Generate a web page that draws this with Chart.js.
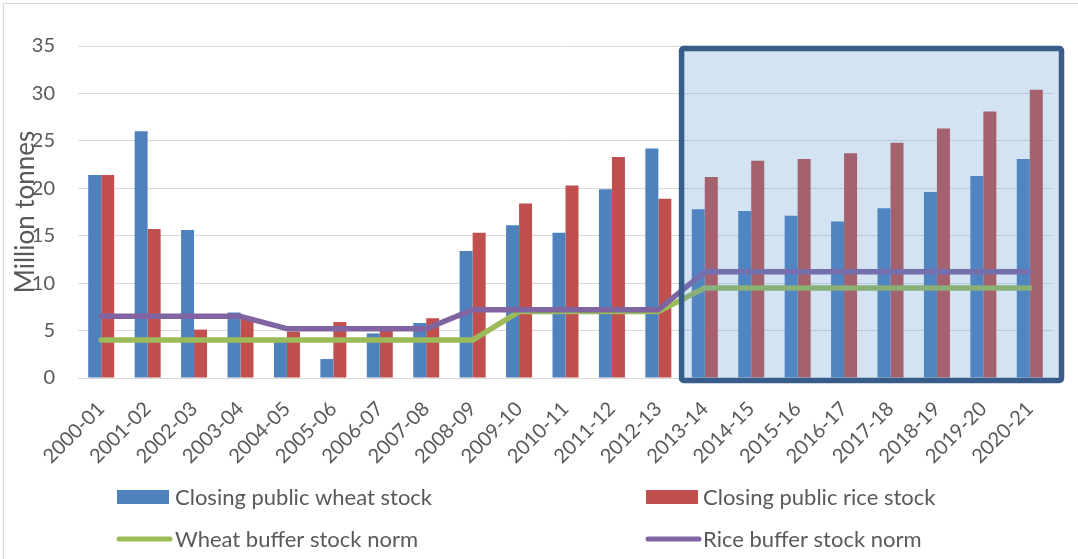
<!DOCTYPE html>
<html><head><meta charset="utf-8">
<script src="https://cdn.jsdelivr.net/npm/chart.js@4.4.1/dist/chart.umd.min.js"></script>
<style>html,body{margin:0;padding:0;background:#fff;}#wrap{width:1078px;height:559px;position:relative;}</style>
</head><body><div id="wrap"><canvas id="c" width="1078" height="559"></canvas></div>
<script>
const categories = ['2000-01','2001-02','2002-03','2003-04','2004-05','2005-06','2006-07','2007-08','2008-09','2009-10','2010-11','2011-12','2012-13','2013-14','2014-15','2015-16','2016-17','2017-18','2018-19','2019-20','2020-21'];
const wheatStock = [21.4, 26.0, 15.6, 6.9, 4.1, 2.0, 4.7, 5.8, 13.4, 16.1, 15.3, 19.9, 24.2, 17.8, 17.6, 17.1, 16.5, 17.9, 19.6, 21.3, 23.1];
const riceStock  = [21.4, 15.7, 5.1, 6.3, 4.9, 5.9, 5.1, 6.3, 15.3, 18.4, 20.3, 23.3, 18.9, 21.2, 22.9, 23.1, 23.7, 24.8, 26.3, 28.1, 30.4];
const wheatNorm  = [4, 4, 4, 4, 4, 4, 4, 4, 4, 7, 7, 7, 7, 9.5, 9.5, 9.5, 9.5, 9.5, 9.5, 9.5, 9.5];
const riceNorm   = [6.5, 6.5, 6.5, 6.5, 5.2, 5.2, 5.2, 5.2, 7.2, 7.2, 7.2, 7.2, 7.2, 11.2, 11.2, 11.2, 11.2, 11.2, 11.2, 11.2, 11.2];
const seriesLabels = ['Closing public wheat stock', 'Closing public rice stock', 'Wheat buffer stock norm', 'Rice buffer stock norm'];
const highlightFrom = '2013-14';
const yTicksMax = 35, yStep = 5;

const FONT = 'Lato, "Open Sans", sans-serif';
const TXT = '#595959';

const frame = {
  id: 'frame',
  beforeDraw(chart) {
    const ctx = chart.ctx;
    ctx.save();
    ctx.fillStyle = '#fff';
    ctx.fillRect(0, 0, chart.width, chart.height);
    ctx.strokeStyle = '#d9d9d9';
    ctx.lineWidth = 1;
    ctx.strokeRect(3.5, 3.5, chart.width + 10, chart.height + 10);
    ctx.restore();
  }
};

const highlight = {
  id: 'highlight',
  afterDatasetsDraw(chart) {
    const x = chart.scales.x, y = chart.scales.y, ctx = chart.ctx;
    const idx = categories.indexOf(highlightFrom);
    const l = x.getPixelForValue(idx - 0.5);
    const r = x.right + 8.5;
    const t = y.getPixelForValue(yTicksMax) + 2.5;
    const b = y.getPixelForValue(0) + 2.5;
    ctx.save();
    ctx.fillStyle = 'rgba(86,147,205,0.26)';
    ctx.fillRect(l, t, r - l, b - t);
    ctx.strokeStyle = '#385d8a';
    ctx.lineWidth = 5.5;
    ctx.lineJoin = 'round';
    ctx.beginPath();
    if (ctx.roundRect) ctx.roundRect(l, t, r - l, b - t, 2); else ctx.rect(l, t, r - l, b - t);
    ctx.stroke();
    ctx.restore();
  }
};

const legendPlugin = {
  id: 'customLegend',
  afterDraw(chart) {
    const ctx = chart.ctx;
    const ds = chart.data.datasets;
    const pos = [
      {sx: 117, tx: 175, y: 497},
      {sx: 646, tx: 703, y: 497},
      {sx: 117, tx: 175, y: 539},
      {sx: 646, tx: 703, y: 539}
    ];
    ctx.save();
    ctx.font = '22px ' + FONT;
    ctx.textBaseline = 'middle';
    ctx.textAlign = 'left';
    ds.forEach((d, i) => {
      const p = pos[i];
      if (d.type === 'line') {
        ctx.strokeStyle = d.borderColor;
        ctx.lineWidth = 5;
        ctx.lineCap = 'round';
        ctx.beginPath();
        ctx.moveTo(p.sx + 2, p.y);
        ctx.lineTo(p.sx + 53, p.y);
        ctx.stroke();
      } else {
        ctx.fillStyle = d.backgroundColor;
        ctx.fillRect(p.sx, p.y - 7, 52, 14);
      }
      ctx.fillStyle = TXT;
      ctx.fillText(d.label, p.tx, p.y + 1);
    });
    ctx.restore();
  }
};

new Chart(document.getElementById('c'), {
  data: {
    labels: categories,
    datasets: [
      {type: 'bar', label: seriesLabels[0], data: wheatStock, backgroundColor: '#4f81bd', order: 2, categoryPercentage: 0.56, barPercentage: 1.0},
      {type: 'bar', label: seriesLabels[1], data: riceStock, backgroundColor: '#c0504d', order: 2, categoryPercentage: 0.56, barPercentage: 1.0},
      {type: 'line', label: seriesLabels[2], data: wheatNorm, borderColor: '#9bbb59', backgroundColor: '#9bbb59', borderWidth: 5.5, pointRadius: 0, borderCapStyle: 'round', borderJoinStyle: 'round', tension: 0, order: 1},
      {type: 'line', label: seriesLabels[3], data: riceNorm, borderColor: '#8064a2', backgroundColor: '#8064a2', borderWidth: 5.5, pointRadius: 0, borderCapStyle: 'round', borderJoinStyle: 'round', tension: 0, order: 0}
    ]
  },
  options: {
    responsive: false,
    animation: false,
    devicePixelRatio: 1,
    layout: {padding: {top: 46, right: 25, left: 0, bottom: 0}},
    plugins: {legend: {display: false}, tooltip: {enabled: false}, title: {display: false}},
    scales: {
      x: {
        grid: {display: false, drawTicks: false},
        border: {display: true, color: '#d9d9d9', width: 1},
        ticks: {color: TXT, font: {family: FONT, size: 20}, minRotation: 45, maxRotation: 45, autoSkip: false, padding: 19},
        afterFit(s) { s.height = 181; }
      },
      y: {
        min: 0, max: yTicksMax,
        grid: {color: '#d9d9d9', lineWidth: 1, drawTicks: false},
        border: {display: false},
        ticks: {stepSize: yStep, color: TXT, font: {family: FONT, size: 20}, padding: 23},
        title: {display: true, text: 'Million tonnes', color: TXT, font: {family: FONT, size: 26}, padding: {top: 10, bottom: 0}},
        afterFit(s) { s.width = 78; }
      }
    }
  },
  plugins: [frame, highlight, legendPlugin]
});
</script>
</body></html>
